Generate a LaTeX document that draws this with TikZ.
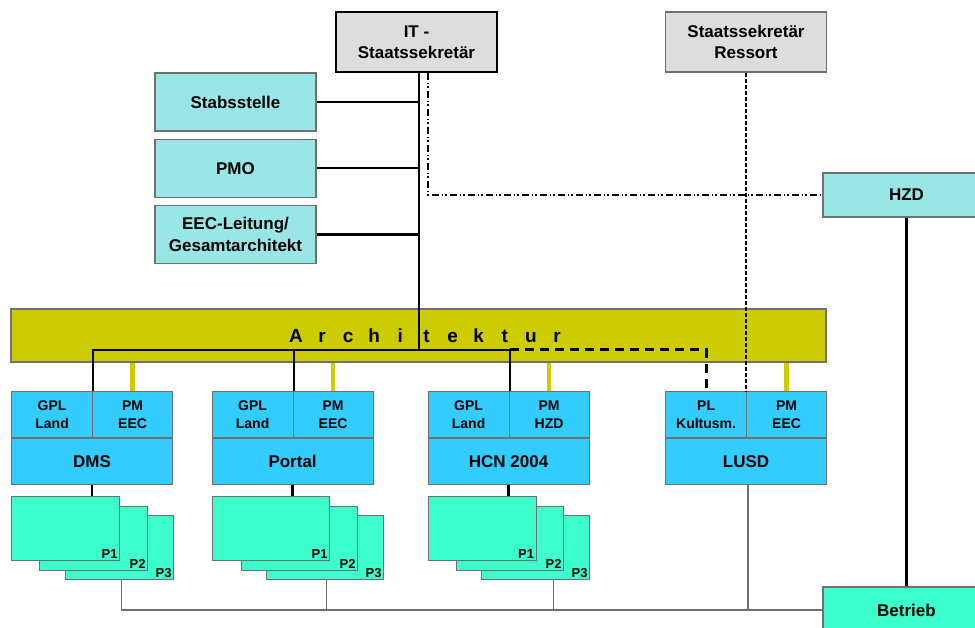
\documentclass[tikz,border=0pt]{standalone}
\usepackage{fontspec}
\setsansfont{Liberation Sans}
\usetikzlibrary{positioning}
\usepackage{xcolor}
\definecolor{chiefgrey}{HTML}{DDDDDD}
\definecolor{staffteal}{HTML}{99E6E6}
\definecolor{headblue}{HTML}{33CCFF}
\definecolor{projgreen}{HTML}{3CFFCC}
\definecolor{archyellow}{HTML}{CCCC00}
\definecolor{rimgrey}{HTML}{707070}
\newcommand{\archletter}[1]{\makebox[26.1pt]{#1}}

\begin{document}
\begin{tikzpicture}[
  x=1pt, y=-1pt,
  font=\sffamily\bfseries\fontsize{17}{21.5}\selectfont,
  node distance=7pt,
  box/.style={draw=rimgrey, line width=1.2pt, inner sep=0pt, align=center},
  chief/.style={box, fill=chiefgrey, minimum width=161pt, minimum height=60pt},
  staff/.style={box, fill=staffteal, minimum width=161pt, minimum height=58pt},
  unit/.style={box, fill=staffteal, minimum width=167pt, minimum height=44pt},
  headbox/.style={box, fill=headblue, minimum width=161pt, minimum height=46pt},
  subbox/.style={box, fill=headblue, minimum height=46pt, font=\sffamily\bfseries\fontsize{14}{18}\selectfont},
  projbox/.style={box, fill=projgreen, minimum height=64pt},
  plabel/.style={font=\sffamily\bfseries\fontsize{13}{15}\selectfont, inner sep=2.5pt, anchor=south east},
  orgline/.style={line width=2.3pt},
  hintline/.style={line width=1.8pt, dash pattern=on 7pt off 3pt on 1.5pt off 2pt on 1.5pt off 3pt},
  minline/.style={line width=2pt, dash pattern=on 4pt off 2pt},
  planline/.style={line width=3pt, dash pattern=on 9pt off 6pt},
  pmline/.style={line width=4.5pt, archyellow},
  opsline/.style={line width=1.4pt, rimgrey}
]
  \clip (0,0) rectangle (975,628);

  % leadership
  \node[chief, draw=black] (itsek) at (416.5,42) {IT -\\Staatssekretär};
  \node[chief] (ressort) at (746,42) {Staatssekretär\\Ressort};

  \node[staff] (stab) at (235.5,102) {Stabsstelle};
  \node[staff, below=of stab] (pmo) {PMO};
  \node[staff, below=of pmo] (eec) {EEC-Leitung/\\Gesamtarchitekt};

  \node[unit] (hzd) at (906.5,195) {HZD};
  \node[unit, fill=projgreen, minimum height=46pt] (betrieb) at (906.5,610) {Betrieb};

  % architecture band
  \node[box, fill=archyellow, minimum width=815pt, minimum height=53pt] (arch) at (418.5,335.5) {};
  \node[font=\sffamily\bfseries\fontsize{19}{22}\selectfont] (archtext) at (426.5,335.5)
    {\archletter{A}\archletter{r}\archletter{c}\archletter{h}\archletter{i}\archletter{t}\archletter{e}\archletter{k}\archletter{t}\archletter{u}\archletter{r}};

  % projects
  \node[headbox, anchor=north west] (dms) at (11,438) {DMS};
  \node[subbox, minimum width=81pt, anchor=south west] (dmsgpl) at (dms.north west) {GPL\\Land};
  \node[subbox, minimum width=80pt, anchor=south east] (dmspm) at (dms.north east) {PM\\EEC};

  \node[headbox, anchor=north west] (portal) at (211.5,438) {Portal};
  \node[subbox, minimum width=81pt, anchor=south west] (portalgpl) at (portal.north west) {GPL\\Land};
  \node[subbox, minimum width=80pt, anchor=south east] (portalpm) at (portal.north east) {PM\\EEC};

  \node[headbox, anchor=north west] (hcn) at (427.5,438) {HCN 2004};
  \node[subbox, minimum width=81pt, anchor=south west] (hcngpl) at (hcn.north west) {GPL\\Land};
  \node[subbox, minimum width=80pt, anchor=south east] (hcnpm) at (hcn.north east) {PM\\HZD};

  \node[headbox, anchor=north west] (lusd) at (665,438) {LUSD};
  \node[subbox, minimum width=81pt, anchor=south west] (lusdpl) at (lusd.north west) {PL\\Kultusm.};
  \node[subbox, minimum width=80pt, anchor=south east] (lusdpm) at (lusd.north east) {PM\\EEC};

  % sub-projects
  \node[projbox, minimum width=108pt, anchor=north west, label={[plabel]south east:P3}] (dmsp3) at (65,515) {};
  \node[projbox, minimum width=108pt, anchor=north west, label={[plabel]south east:P2}] (dmsp2) at (39,506) {};
  \node[projbox, minimum width=108pt, anchor=north west, label={[plabel]south east:P1}] (dmsp1) at (11,496) {};

  \node[projbox, minimum width=117pt, anchor=north west, label={[plabel]south east:P3}] (portalp3) at (266,515) {};
  \node[projbox, minimum width=116pt, anchor=north west, label={[plabel]south east:P2}] (portalp2) at (241,506) {};
  \node[projbox, minimum width=117pt, anchor=north west, label={[plabel]south east:P1}] (portalp1) at (212,496) {};

  \node[projbox, minimum width=108pt, anchor=north west, label={[plabel]south east:P3}] (hcnp3) at (481,515) {};
  \node[projbox, minimum width=107pt, anchor=north west, label={[plabel]south east:P2}] (hcnp2) at (456,506) {};
  \node[projbox, minimum width=108pt, anchor=north west, label={[plabel]south east:P1}] (hcnp1) at (427.5,496) {};

  % reporting lines
  \coordinate (hub) at (419,350);
  \draw[orgline] (itsek.south -| hub) -- (hub);
  \draw[orgline] (stab.east) -- (stab.east -| hub);
  \draw[orgline] (pmo.east) -- (pmo.east -| hub);
  \draw[orgline] (eec.east) -- (eec.east -| hub);
  \draw[orgline] (dmsgpl.north east) |- (hub);
  \draw[orgline] (portalgpl.north east) -- (portalgpl.north east |- hub);
  \draw[orgline] (hcngpl.north east) |- (hub);
  \draw[planline] (hcngpl.north east |- hub) -| (lusdpl.north);
  \draw[minline] (ressort.south) -- (ressort.south |- lusdpm.north west);
  \draw[hintline] ([xshift=11.5pt]itsek.south) |- (hzd.west);
  \draw[orgline, line width=2.8pt] (hzd.south) -- (betrieb.north);

  \draw[pmline] (dmspm.north) -- (dmspm.north |- arch.south);
  \draw[pmline] (portalpm.north) -- (portalpm.north |- arch.south);
  \draw[pmline] (hcnpm.north) -- (hcnpm.north |- arch.south);
  \draw[pmline] (lusdpm.north) -- (lusdpm.north |- arch.south);

  \draw[orgline] (dms.south) -- (dms.south |- dmsp1.north);
  \draw[orgline] (portal.south) -- (portal.south |- portalp1.north);
  \draw[orgline] (hcn.south) -- (hcn.south |- hcnp1.north);

  % operations
  \draw[opsline] ([xshift=2pt]dmsp3.south) |- (betrieb.west);
  \draw[opsline] ([xshift=1.5pt]portalp3.south) -- ([xshift=1.5pt]portalp3.south |- betrieb.west);
  \draw[opsline] ([xshift=18pt]hcnp3.south) -- ([xshift=18pt]hcnp3.south |- betrieb.west);
  \draw[opsline] ([xshift=2pt]lusd.south) -- ([xshift=2pt]lusd.south |- betrieb.west);
\end{tikzpicture}
\end{document}
